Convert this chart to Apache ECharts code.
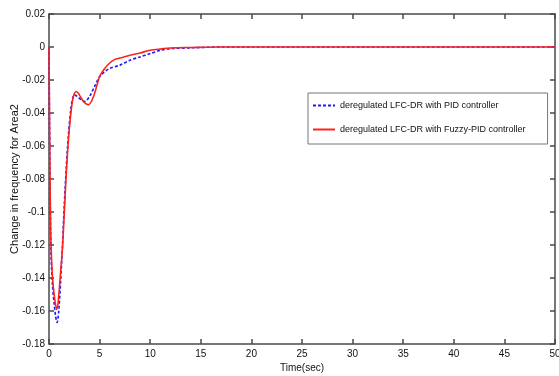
<!DOCTYPE html>
<html>
<head>
<meta charset="utf-8">
<script src="https://cdn.jsdelivr.net/npm/echarts@6/dist/echarts.min.js"></script>
<style>
html,body{margin:0;padding:0;background:#fff;}
#chart{width:559px;height:376px;}
</style>
</head>
<body>
<div id="chart"></div>
<script>
// Tick labels
var xTicks = [0, 5, 10, 15, 20, 25, 30, 35, 40, 45, 50];
var yTicks = [0.02, 0, -0.02, -0.04, -0.06, -0.08, -0.1, -0.12, -0.14, -0.16, -0.18];

// Blue: deregulated LFC-DR with PID controller
var pidTime = [0, 0.05, 0.12, 0.2, 0.35, 0.5, 0.65, 0.8, 0.95, 1.15, 1.35, 1.5, 1.7, 1.9, 2.15, 2.35, 2.5, 2.8, 3.2, 3.55, 4.0, 4.5, 5.0, 5.5, 6.0, 7.0, 8.0, 9.0, 10.0, 11.0, 12.0, 14.0, 17.0, 20.0, 30.0, 40.0, 50.0];
var pidValue = [0, -0.045, -0.095, -0.125, -0.145, -0.155, -0.163, -0.167, -0.161, -0.142, -0.118, -0.097, -0.074, -0.055, -0.038, -0.031, -0.029, -0.030, -0.032, -0.033, -0.030, -0.024, -0.018, -0.015, -0.013, -0.011, -0.008, -0.006, -0.004, -0.002, -0.001, -0.0005, 0, 0, 0, 0, 0];

// Red: deregulated LFC-DR with Fuzzy-PID controller
var fuzzyTime = [0, 0.05, 0.12, 0.2, 0.35, 0.55, 0.76, 0.9, 1.1, 1.35, 1.65, 1.9, 2.2, 2.45, 2.7, 3.0, 3.4, 3.9, 4.4, 5.0, 5.5, 6.0, 6.5, 7.0, 8.0, 9.0, 10.0, 11.0, 12.0, 14.0, 17.0, 20.0, 30.0, 40.0, 50.0];
var fuzzyValue = [0, -0.04, -0.09, -0.12, -0.14, -0.152, -0.159, -0.155, -0.14, -0.12, -0.083, -0.058, -0.038, -0.029, -0.027, -0.029, -0.033, -0.035, -0.030, -0.018, -0.013, -0.0097, -0.0075, -0.0067, -0.005, -0.0036, -0.002, -0.0012, -0.0006, -0.0003, 0, 0, 0, 0, 0];

var seriesNames = ['deregulated LFC-DR with PID controller', 'deregulated LFC-DR with Fuzzy-PID controller'];

function pairs(t, v) { return t.map(function (x, i) { return [x, v[i]]; }); }

var axisColor = '#4a4a4a';
var font = 'Liberation Sans, Arial, sans-serif';

var chart = echarts.init(document.getElementById('chart'));
chart.setOption({
  animation: false,
  backgroundColor: '#ffffff',
  grid: { left: 49, right: 4, top: 14, bottom: 32, containLabel: false, outerBoundsMode: 'none' },
  legend: {
    orient: 'vertical',
    left: 308, top: 93,
    padding: [8, 22, 10, 4],
    itemGap: 15,
    itemWidth: 22, itemHeight: 10,
    itemStyle: { opacity: 0 },
    backgroundColor: '#ffffff',
    borderColor: '#777777', borderWidth: 1,
    textStyle: { fontFamily: font, fontSize: 9, color: '#111' },
    data: seriesNames
  },
  xAxis: [{
    type: 'value', min: 0, max: 50, interval: 5,
    name: 'Time(sec)', nameLocation: 'middle', nameGap: 19, nameMoveOverlap: false,
    nameTextStyle: { fontFamily: font, fontSize: 10, color: '#111' },
    axisLine: { onZero: false, lineStyle: { color: axisColor, width: 1.5 } },
    axisTick: { inside: true, length: 5, lineStyle: { color: axisColor, width: 1.5 } },
    axisLabel: { fontFamily: font, fontSize: 10, color: '#111', margin: 5 },
    splitLine: { show: false }
  }, {
    type: 'value', min: 0, max: 50, interval: 5, position: 'top',
    axisLine: { show: true, onZero: false, lineStyle: { color: axisColor, width: 1.5 } },
    axisTick: { inside: true, length: 5, lineStyle: { color: axisColor, width: 1.5 } },
    axisLabel: { show: false }, splitLine: { show: false }
  }],
  yAxis: [{
    type: 'value', min: -0.18, max: 0.02, interval: 0.02,
    name: 'Change in frequency for Area2', nameLocation: 'middle', nameGap: 29, nameMoveOverlap: false,
    nameTextStyle: { fontFamily: font, fontSize: 11, color: '#111' },
    axisLine: { show: true, onZero: false, lineStyle: { color: axisColor, width: 1.5 } },
    axisTick: { show: true, inside: true, length: 5, lineStyle: { color: axisColor, width: 1.5 } },
    axisLabel: {
      fontFamily: font, fontSize: 10, color: '#111', margin: 4,
      formatter: function (v) { return String(parseFloat(v.toFixed(2))); }
    },
    splitLine: { show: false }
  }, {
    type: 'value', min: -0.18, max: 0.02, interval: 0.02, position: 'right',
    axisLine: { show: true, onZero: false, lineStyle: { color: axisColor, width: 1.5 } },
    axisTick: { show: true, inside: true, length: 5, lineStyle: { color: axisColor, width: 1.5 } },
    axisLabel: { show: false }, splitLine: { show: false }
  }],
  series: [{
    name: seriesNames[0], type: 'line', xAxisIndex: 0, yAxisIndex: 0,
    data: pairs(pidTime, pidValue), smooth: 0.3, symbol: 'none',
    lineStyle: { color: '#1a1aff', width: 1.6, type: [3, 2] },
    itemStyle: { color: '#1a1aff' },
    z: 2
  }, {
    name: seriesNames[1], type: 'line', xAxisIndex: 0, yAxisIndex: 0,
    data: pairs(fuzzyTime, fuzzyValue), smooth: 0.3, symbol: 'none',
    lineStyle: { color: '#ff2020', width: 1.6 },
    itemStyle: { color: '#ff2020' },
    z: 3
  }]
});
</script>
</body>
</html>
